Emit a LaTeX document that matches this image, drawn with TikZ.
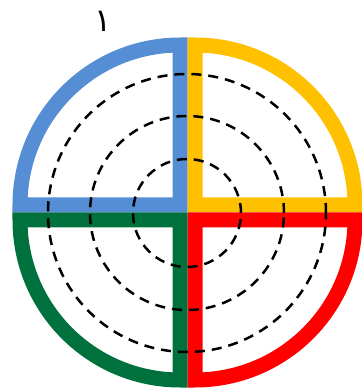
\documentclass[tikz,border=0pt]{standalone}
\usepackage{fontspec}
\newfontfamily\arabicfont[Script=Arabic]{DejaVu Sans}
\TeXXeTstate=1
\definecolor{qblue}{HTML}{558ED5}
\definecolor{qyellow}{HTML}{FFC000}
\definecolor{qgreen}{HTML}{00703C}
\definecolor{qred}{HTML}{FF0000}

\begin{document}
\begin{tikzpicture}[
        x=0.5pt, y=0.5pt,
        quarter/.style = {line width=7.5pt, line join=miter},
        ring/.style = {draw=black, line width=1.25pt, dash pattern=on 5pt off 3.5pt}
    ]
        \useasboundingbox (0,0) rectangle (362,391);

        % Corners of the four quarters
        \coordinate (cBlue) at (180,186);
        \coordinate (cYellow) at (195,186);
        \coordinate (cGreen) at (180,171);
        \coordinate (cRed) at (195,171);
        \coordinate (cRing) at (187,178);

        % Quarters
        \draw [quarter, draw=qblue] (cBlue) -- ++(-160,0) arc[start angle=180, end angle=90, radius=80pt] -- cycle;
        \draw [quarter, draw=qyellow] (cYellow) -- ++(0,160) arc[start angle=90, end angle=0, radius=80pt] -- cycle;
        \draw [quarter, draw=qgreen] (cGreen) -- ++(-160,0) arc[start angle=180, end angle=270, radius=80pt] -- cycle;
        \draw [quarter, draw=qred] (cRed) -- ++(0,-160) arc[start angle=270, end angle=360, radius=80pt] -- cycle;

        % Dashed rings
        \foreach \r in {54,97,139}
            \draw [ring] (cRing) circle[radius=\r*0.5pt];

        % Label
        \node (one) [font=\arabicfont\fontsize{16}{18}\selectfont, inner sep=0pt] at (103,370) {\beginR ١\endR};

    \end{tikzpicture}
\end{document}
